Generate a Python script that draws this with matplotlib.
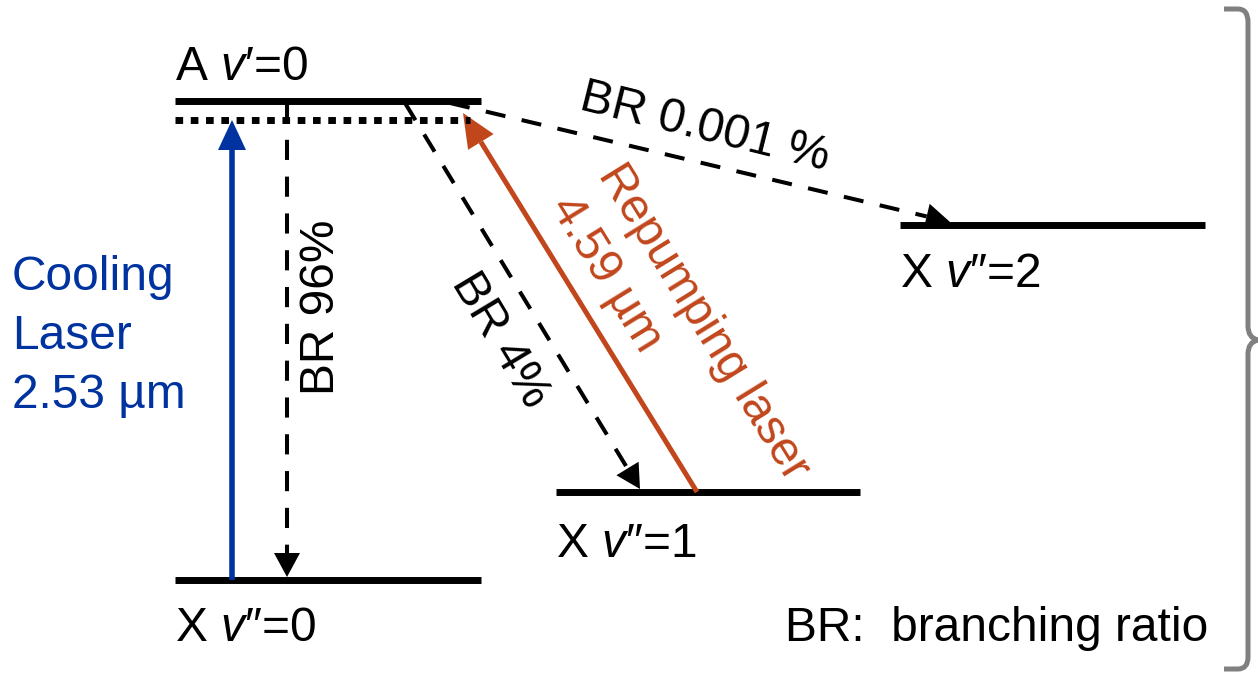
"""Diagrama de niveles de energia con laseres de enfriamiento y rebombeo."""

import numpy as np
import matplotlib.pyplot as plt
from matplotlib.patches import Polygon, PathPatch
from matplotlib.path import Path

plt.rcParams['font.family'] = ['Liberation Sans', 'DejaVu Sans']
plt.rcParams['mathtext.fontset'] = 'custom'
plt.rcParams['mathtext.rm'] = 'Liberation Sans'
plt.rcParams['mathtext.it'] = 'Liberation Sans:italic'
plt.rcParams['lines.scale_dashes'] = False

# niveles (altura en px de la figura, eje invertido)
level_labels = ["A $v$′=0", "X $v$″=0", "X $v$″=1", "X $v$″=2"]
level_y = [101, 580, 492, 225]
level_x0 = [175, 175, 556, 900]
level_x1 = [481, 481, 860, 1205]
label_dy = [-21, 61, 65, 62]

# decaimientos: nivel destino, x inicio, x fin, texto
decay_to = [1, 2, 3]
decay_x0 = [287, 405, 450]
decay_x1 = [287, 640, 950]
decay_text = ["BR 96%", "BR 4%", "BR 0.001 %"]

cooling_text = ["Cooling", "Laser", "2.53 µm"]
repump_text = ["Repumping laser", "4.59 µm"]

BLUE = '#0033a0'
ORANGE = '#c1461b'
GRAY = '#808080'
FS = 34.5


def arrow(ax, p0, p1, color, ls='-', lw=3, hl=26, hw=26):
    """Linea con punta triangular rellena (coordenadas en px)."""
    p0, p1 = np.array(p0, float), np.array(p1, float)
    d = p1 - p0
    u = d / np.hypot(*d)
    n = np.array([-u[1], u[0]])
    base = p1 - u * hl
    ax.plot([p0[0], base[0]], [p0[1], base[1]], color=color, lw=lw,
            ls=ls, solid_capstyle='butt', dash_capstyle='butt')
    tri = [p1, base + n * hw / 2, base - n * hw / 2]
    ax.add_patch(Polygon(tri, closed=True, facecolor=color, lw=0))


fig = plt.figure(figsize=(12.58, 6.78), dpi=100)
ax = fig.add_axes([0, 0, 1, 1])
ax.set_xlim(0, 1258)
ax.set_ylim(678, 0)
ax.axis('off')

# niveles
for lab, y, x0, x1, dy in zip(level_labels, level_y, level_x0, level_x1, label_dy):
    ax.plot([x0, x1], [y, y], color='black', lw=5, solid_capstyle='butt')
    ax.text(x0, y + dy, lab, fontsize=FS, ha='left', va='baseline')

# nivel virtual (punteado)
y_virt = level_y[0] + 19
ax.plot([level_x0[0], 470], [y_virt, y_virt], color='black', lw=5,
        ls=(0, (5.5, 5.5)), dash_capstyle='butt')

# laser de enfriamiento
arrow(ax, (232, level_y[1]), (232, y_virt), BLUE, lw=4, hl=30, hw=28)
for i, t in enumerate(cooling_text):
    ax.text(12, 290 + 59 * i, t, fontsize=FS, color=BLUE, ha='left', va='baseline')

# decaimientos
dashes = (0, (14.5, 12))
for k, x0, x1 in zip(decay_to, decay_x0, decay_x1):
    arrow(ax, (x0, level_y[0] + 2), (x1, level_y[k] - 3), 'black', ls=dashes,
          lw=2.9, hl=24, hw=26)

ax.text(322, 307, decay_text[0], fontsize=FS, rotation=90,
        ha='center', va='center')
ang4 = -np.degrees(np.arctan2(level_y[2] - level_y[0], decay_x1[1] - decay_x0[1]))
ax.text(500, 340, decay_text[1], fontsize=FS, rotation=ang4,
        ha='center', va='center', rotation_mode='anchor')
ang2 = -np.degrees(np.arctan2(level_y[3] - level_y[0], decay_x1[2] - decay_x0[2]))
ax.text(705, 128, decay_text[2], fontsize=FS, rotation=ang2,
        ha='center', va='center', rotation_mode='anchor')

# laser de rebombeo
rp0 = (697, level_y[2])
rp1 = (463, 113)
arrow(ax, rp0, rp1, ORANGE, lw=3.6, hl=34, hw=30)
angr = -np.degrees(np.arctan2(rp0[1] - rp1[1], rp0[0] - rp1[0]))
ax.text(703, 322, repump_text[0], fontsize=FS, color=ORANGE, rotation=angr,
        ha='center', va='center', rotation_mode='anchor')
ax.text(606, 274, repump_text[1], fontsize=FS, color=ORANGE, rotation=angr,
        ha='center', va='center', rotation_mode='anchor')

ax.text(785, 641, "BR:  branching ratio", fontsize=FS, ha='left', va='baseline')

# llave derecha
verts = [(1224, 9), (1238, 9), (1248, 9), (1248, 22), (1248, 326),
         (1248, 338), (1258, 340), (1248, 342), (1248, 354), (1248, 657),
         (1248, 669), (1238, 669), (1224, 669)]
codes = [Path.MOVETO, Path.LINETO, Path.CURVE3, Path.CURVE3, Path.LINETO,
         Path.CURVE3, Path.CURVE3, Path.CURVE3, Path.CURVE3, Path.LINETO,
         Path.CURVE3, Path.CURVE3, Path.LINETO]
ax.add_patch(PathPatch(Path(verts, codes), facecolor='none', edgecolor=GRAY, lw=3.6))

fig.savefig('out.png', dpi=100)
